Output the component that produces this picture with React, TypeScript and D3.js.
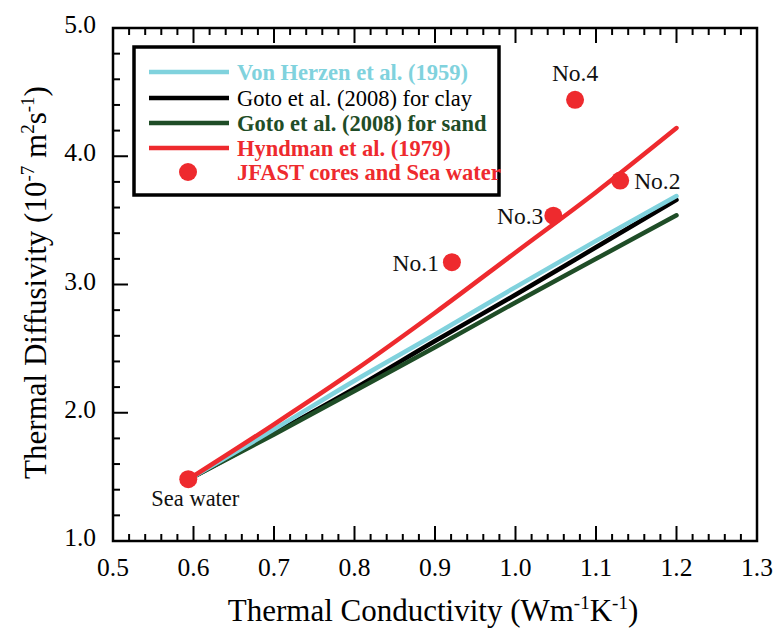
import React from 'react';
import * as d3 from 'd3';

// conductivity grid for the model curves
const condGrid = [0.5935, 0.7, 0.8, 0.9, 1.0, 1.1, 1.2];
const vonHerzen = [1.48, 1.87, 2.25, 2.61, 2.98, 3.34, 3.69];
const gotoClay = [1.48, 1.84, 2.19, 2.56, 2.92, 3.29, 3.66];
const gotoSand = [1.48, 1.83, 2.17, 2.51, 2.86, 3.20, 3.54];
const hyndman = [1.48, 1.91, 2.33, 2.78, 3.25, 3.72, 4.22];

// measured samples
const sampleNames = ['Sea water', 'No.1', 'No.2', 'No.3', 'No.4'];
const sampleCond = [0.5935, 0.921, 1.130, 1.047, 1.074];
const sampleDiff = [1.482, 3.174, 3.81, 3.537, 4.44];

const xTicks = [0.5, 0.6, 0.7, 0.8, 0.9, 1.0, 1.1, 1.2, 1.3];
const yTicks = [1.0, 2.0, 3.0, 4.0, 5.0];

const legendNames = [
  'Von Herzen et al. (1959)',
  'Goto et al. (2008) for clay',
  'Goto et al. (2008) for sand',
  'Hyndman et al. (1979)',
  'JFAST cores and Sea water',
];

const FONT = "'Liberation Serif', 'Times New Roman', serif";
const RED = '#ee2a2e';
const CYAN = '#80d2dd';
const GREEN = '#1f4d27';

export default function App() {
  const width = 774;
  const height = 628;
  const m = { left: 113, right: 17, top: 28, bottom: 87 };

  const x = d3.scaleLinear().domain([0.5, 1.3]).range([m.left, width - m.right]);
  const y = d3.scaleLinear().domain([1, 5]).range([height - m.bottom, m.top]);

  const line = d3.line<number>()
    .x((_, i) => x(condGrid[i]))
    .y(d => y(d))
    .curve(d3.curveMonotoneX);

  const series = [
    { vals: gotoClay, color: '#000' },
    { vals: gotoSand, color: GREEN },
    { vals: vonHerzen, color: CYAN },
    { vals: hyndman, color: RED },
  ];

  const xMinor = d3.range(0.5, 1.3001, 0.02);
  const yMinor = d3.range(1, 5.0001, 0.2);

  // label offsets (dx, dy, anchor) for each sample
  const labelPos = [
    { dx: -37, dy: 27, anchor: 'start' },
    { dx: -13, dy: 9, anchor: 'end' },
    { dx: 14, dy: 8, anchor: 'start' },
    { dx: -10, dy: 8, anchor: 'end' },
    { dx: 0, dy: -19, anchor: 'middle' },
  ];

  const legendColors = [CYAN, '#000', GREEN, RED, RED];
  const legendBold = [true, false, true, true, true];
  const legendY = [72, 98, 123, 148, 172];

  return (
    <svg width={width} height={height} style={{ position: 'absolute', left: 0, top: 0, background: '#fff', fontFamily: FONT }}>
      <rect width={width} height={height} fill="#fff" />

      {/* curves */}
      {series.map((s, i) => (
        <path key={i} d={line(s.vals) || ''} fill="none" stroke={s.color} strokeWidth={4.5} strokeLinecap="round" />
      ))}

      {/* samples */}
      {sampleNames.map((n, i) => (
        <g key={n}>
          <circle cx={x(sampleCond[i])} cy={y(sampleDiff[i])} r={9} fill={RED} />
          <text x={x(sampleCond[i]) + labelPos[i].dx} y={y(sampleDiff[i]) + labelPos[i].dy}
            textAnchor={labelPos[i].anchor as any} fontSize={i === 0 ? 22.5 : 23.5} fill="#111">{n}</text>
        </g>
      ))}

      {/* frame */}
      <rect x={m.left} y={m.top} width={width - m.left - m.right} height={height - m.top - m.bottom}
        fill="none" stroke="#000" strokeWidth={2.5} />

      {/* bottom & top ticks */}
      {xMinor.map((v, i) => {
        const major = i % 5 === 0;
        const len = major ? 15 : 7;
        return (
          <g key={'x' + i} stroke="#000" strokeWidth={2}>
            <line x1={x(v)} x2={x(v)} y1={y(1)} y2={y(1) - len} />
            <line x1={x(v)} x2={x(v)} y1={y(5)} y2={y(5) + len} />
          </g>
        );
      })}
      {yMinor.map((v, i) => {
        const major = i % 5 === 0;
        const len = major ? 15 : 7;
        return <line key={'y' + i} x1={x(0.5)} x2={x(0.5) + len} y1={y(v)} y2={y(v)} stroke="#000" strokeWidth={2} />;
      })}

      {xTicks.map(v => (
        <text key={'xl' + v} x={x(v)} y={y(1) + 35} textAnchor="middle" fontSize={25.5}>{v.toFixed(1)}</text>
      ))}
      {yTicks.map(v => (
        <text key={'yl' + v} x={x(0.5) - 17} y={y(v) + 5} textAnchor="end" fontSize={25.5}>{v.toFixed(1)}</text>
      ))}

      {/* axis titles */}
      <text x={433} y={621} textAnchor="middle" fontSize={31}>
        Thermal Conductivity (Wm<tspan dy={-12} fontSize={19}>-1</tspan><tspan dy={12}>K</tspan>
        <tspan dy={-12} fontSize={19}>-1</tspan><tspan dy={12}>)</tspan>
      </text>
      <text transform={`translate(46,${(y(1) + y(5)) / 2 - 2}) rotate(-90)`} textAnchor="middle" fontSize={31}>
        Thermal Diffusivity (10<tspan dy={-12} fontSize={19}>-7</tspan><tspan dy={12}> m</tspan>
        <tspan dy={-12} fontSize={19}>2</tspan><tspan dy={12}>s</tspan>
        <tspan dy={-12} fontSize={19}>-1</tspan><tspan dy={12}>)</tspan>
      </text>

      {/* legend */}
      <rect x={134} y={47} width={365} height={148} fill="#fff" stroke="#000" strokeWidth={3.5} />
      {legendNames.map((n, i) => (
        <g key={n}>
          {i < 4
            ? <line x1={149} x2={229} y1={legendY[i]} y2={legendY[i]} stroke={legendColors[i]} strokeWidth={4.5} />
            : <circle cx={188} cy={legendY[i]} r={9} fill={RED} />}
          <text x={237} y={legendY[i] + 8} fontSize={22.5} fill={legendColors[i]}
            fontWeight={legendBold[i] ? 'bold' : 'normal'}>{n}</text>
        </g>
      ))}
    </svg>
  );
}
